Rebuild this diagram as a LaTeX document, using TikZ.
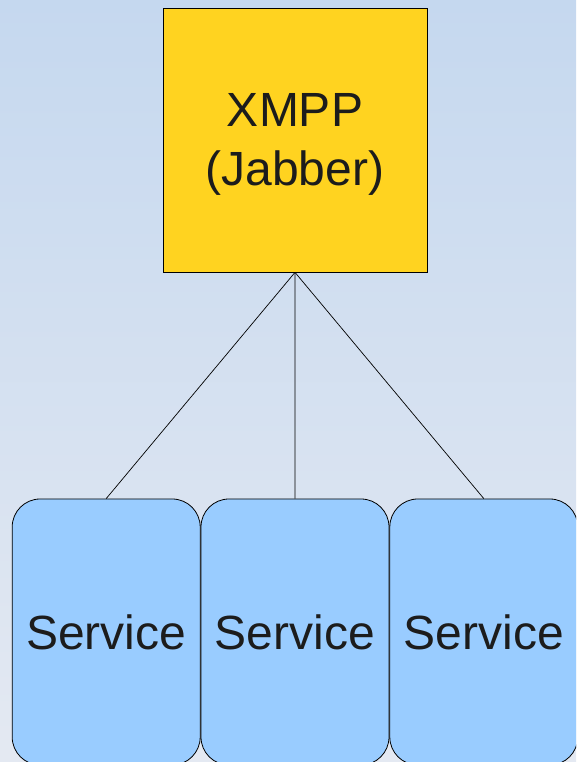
\documentclass[tikz,border=0pt]{standalone}
\usepackage{fontspec}
\setmainfont{Liberation Sans}
\usetikzlibrary{positioning}

\definecolor{bgtop}{HTML}{C5D8EF}
\definecolor{bgbottom}{HTML}{E4E9F2}
\definecolor{xmppyellow}{HTML}{FFD320}
\definecolor{serviceblue}{HTML}{99CCFF}
\definecolor{textgray}{HTML}{1C1C1C}

\tikzset{
	server/.style={draw=black, fill=xmppyellow, line width=0.8pt, minimum width=264pt, minimum height=264pt},
	servertext/.style={align=center, text=textgray, font=\fontsize{48}{59.5}\selectfont, inner sep=0pt},
	service/.style={draw=black, fill=serviceblue, line width=0.8pt, rounded corners=28pt, minimum width=188pt,
		minimum height=266pt, text=textgray, font=\fontsize{48}{56}\selectfont, inner sep=0pt},
	link/.style={black, line width=0.7pt}
}

\begin{document}
\begin{tikzpicture}[x=1pt,y=1pt]
	\useasboundingbox (0,0) rectangle (576,762);
	\clip (0,0) rectangle (576,762);
	\shade[top color=bgtop, bottom color=bgbottom] (0,0) rectangle (576,762);
	
	\node[server] (xmpp) at (295,622) {};
	\node[servertext] (xmpptext) at ([yshift=-4.5pt]xmpp.center) {XMPP\\(Jabber)};
	
	\node[service] (s1) at (106.2,130) {Service};
	\node[service, right=0pt of s1] (s2) {Service};
	\node[service, right=0pt of s2] (s3) {Service};
	
	\foreach \s in {s1,s2,s3}{
		\draw[link] (xmpp.south) -- (\s.north);
	}
\end{tikzpicture}
\end{document}
